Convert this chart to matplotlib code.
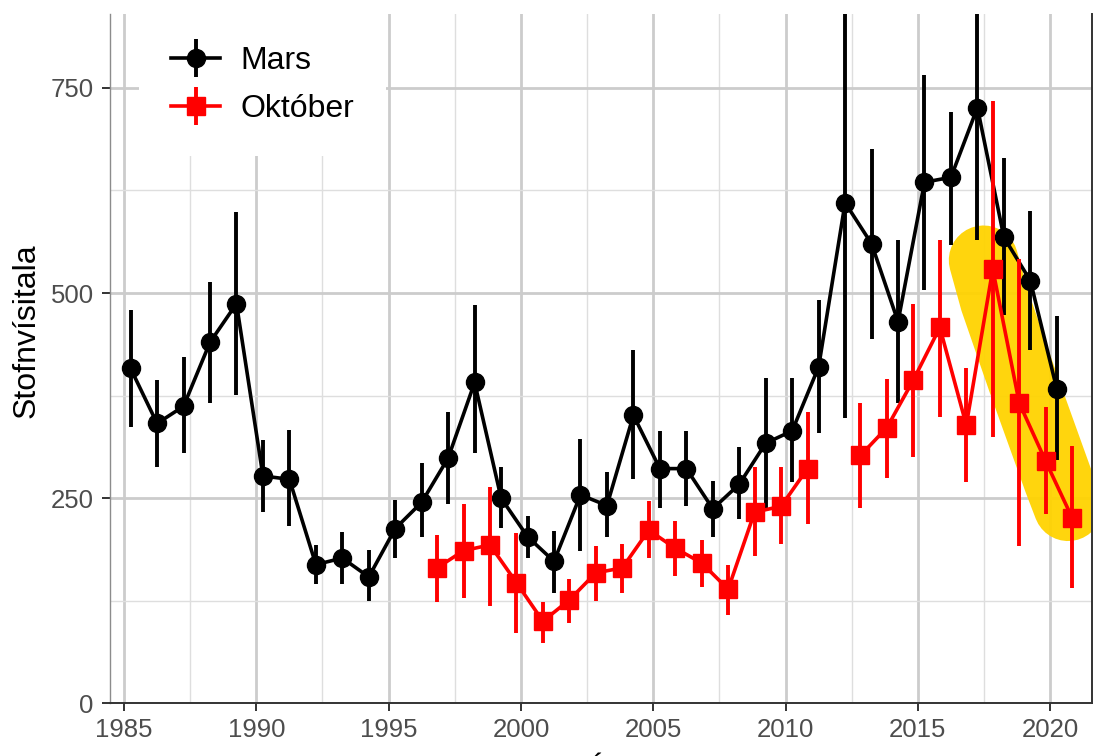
"""Stofnvísitala, mars og október, með óvissubilum."""

import numpy as np
import matplotlib
matplotlib.use("Agg")
import matplotlib.pyplot as plt
from matplotlib.ticker import MultipleLocator
from matplotlib.legend_handler import HandlerErrorbar

plt.rcParams["font.family"] = ["Liberation Sans", "DejaVu Sans"]

# ── data ────────────────────────────────────────────────────────────────────
mars_years = np.arange(1985, 2021)
mars_val = [408, 341, 362, 440, 487, 277, 273, 169, 177, 154, 213, 245, 299,
            391, 250, 203, 173, 254, 241, 351, 286, 286, 237, 267, 317, 332,
            410, 610, 560, 465, 635, 641, 726, 568, 515, 383]
mars_lo = [337, 288, 305, 366, 376, 233, 216, 145, 145, 125, 177, 203, 243,
           305, 214, 177, 135, 186, 203, 273, 238, 240, 203, 225, 238, 270,
           329, 348, 444, 366, 504, 558, 564, 473, 430, 297]
mars_hi = [479, 394, 422, 514, 599, 321, 333, 193, 209, 187, 248, 293, 355,
           485, 288, 228, 210, 322, 282, 430, 332, 332, 271, 312, 396, 396,
           491, 920, 676, 565, 766, 721, 880, 665, 600, 472]

okt_years = np.arange(1996, 2021)
okt_val = [165, 186, 193, 147, 100, 126, 159, 165, 211, 189, 171, 139, 233,
           240, 286, np.nan, 302, 336, 394, 458, 339, 529, 366, 295, 226]
okt_lo = [124, 128, 119, 86, 74, 98, 125, 135, 177, 155, 142, 108, 179,
          194, 218, np.nan, 238, 275, 300, 349, 270, 324, 192, 231, 140]
okt_hi = [205, 243, 264, 207, 124, 151, 192, 194, 247, 222, 199, 169, 288,
          288, 355, np.nan, 366, 395, 487, 565, 408, 734, 542, 361, 313]

# hand-drawn yellow highlight over the last October values (annotation path)
highlight_x = [2017.48, 2017.90, 2018.94, 2020.30, 2020.68]
highlight_y = [540, 491, 394, 272, 240]

MARS_OFFSET = 0.25   # sampled in March
OKT_OFFSET = 0.83    # sampled in October

TICK_FS = 18.5
LABEL_FS = 23


def main():
    fig = plt.figure(figsize=(10.94, 7.56), dpi=100)
    ax = fig.add_axes([110 / 1094, (756 - 703.3) / 756,
                       (1092 - 110) / 1094, (703.3 - 14) / 756])

    ax.set_xlim(1984.47, 2021.58)
    ax.set_ylim(0, 840)

    ax.xaxis.set_major_locator(MultipleLocator(5))
    ax.xaxis.set_minor_locator(MultipleLocator(2.5))
    ax.yaxis.set_major_locator(MultipleLocator(250))
    ax.yaxis.set_minor_locator(MultipleLocator(125))
    ax.set_axisbelow(True)
    ax.grid(which="major", color="#cccccc", linewidth=2.0)
    ax.grid(which="minor", color="#dedede", linewidth=1.0)

    ax.tick_params(which="major", length=5.8, width=1.4, color="#333333",
                   labelsize=TICK_FS, labelcolor="#4d4d4d")
    ax.tick_params(axis="x", pad=5)
    ax.tick_params(axis="y", pad=6)
    ax.tick_params(which="minor", length=0)

    ax.spines["top"].set_visible(False)
    ax.spines["left"].set_color("#8c8c8c")
    ax.spines["left"].set_linewidth(1.0)
    ax.spines["bottom"].set_color("#333333")
    ax.spines["bottom"].set_linewidth(1.4)
    ax.spines["right"].set_color("#333333")
    ax.spines["right"].set_linewidth(1.4)

    # yellow highlight
    ax.plot(highlight_x, highlight_y, color="#FFD300", linewidth=50,
            alpha=0.95, solid_capstyle="round", solid_joinstyle="round",
            zorder=1.5)

    mv = np.array(mars_val, float)
    mars = ax.errorbar(mars_years + MARS_OFFSET, mv,
                       yerr=[mv - np.array(mars_lo), np.array(mars_hi) - mv],
                       fmt="-o", color="black", markersize=13, linewidth=2.6,
                       elinewidth=2.8, capsize=0, zorder=3, label="Mars")

    ov = np.array(okt_val, float)
    okt = ax.errorbar(okt_years + OKT_OFFSET, ov,
                      yerr=[ov - np.array(okt_lo), np.array(okt_hi) - ov],
                      fmt="-s", color="#ff0000", markersize=13.5, linewidth=2.6,
                      elinewidth=2.8, capsize=0, zorder=4, label="Október")

    leg = ax.legend(handles=[mars, okt], loc="upper left",
                    bbox_to_anchor=(29 / 982, 1.0), borderaxespad=0,
                    fontsize=LABEL_FS, frameon=True, fancybox=False,
                    facecolor="white", edgecolor="none", framealpha=1,
                    handlelength=1.55, handletextpad=0.62, labelspacing=0.58,
                    borderpad=1.0,
                    handler_map={type(mars): HandlerErrorbar(xerr_size=0.6)})
    leg.set_zorder(6)

    fig.text(27 / 1094, 1 - 331 / 756, "Stofnvísitala", rotation=90,
             ha="center", va="center", fontsize=LABEL_FS, color="black")
    # x label sits mostly below the cropped figure edge
    fig.text(602 / 1094, -24 / 756, "Ár", ha="center", va="baseline",
             fontsize=LABEL_FS, color="black")

    fig.savefig("out.png", dpi=100)
    plt.close(fig)


if __name__ == "__main__":
    main()
